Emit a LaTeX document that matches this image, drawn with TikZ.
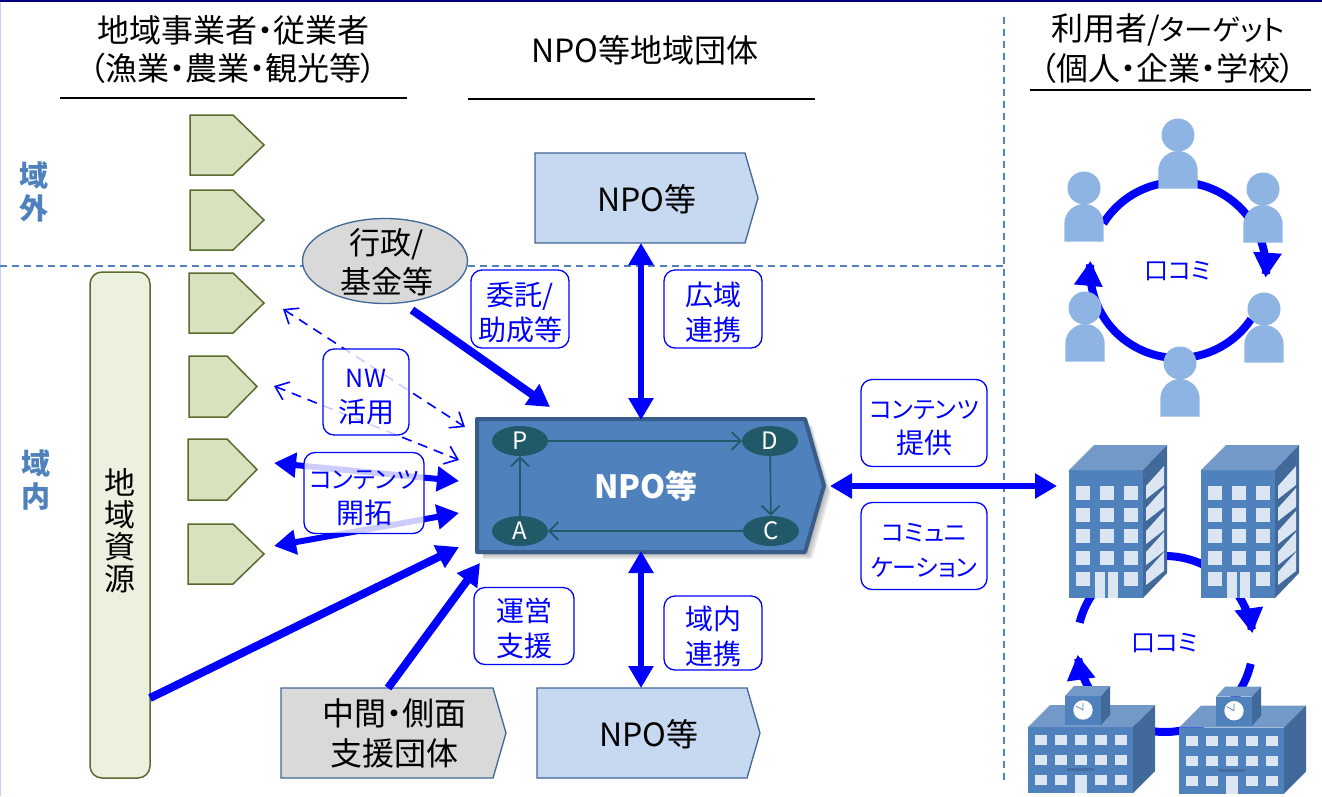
\documentclass[tikz,border=0pt]{standalone}
\usepackage{fontspec}
\setmainfont[RawFeature=+palt]{Noto Sans CJK JP}
\usetikzlibrary{arrows.meta,shadows,calc,shapes.geometric}
\definecolor{lblue}{HTML}{0000FF}
\definecolor{greenf}{HTML}{D8E2BF}
\definecolor{greenl}{HTML}{5A6B30}
\definecolor{resf}{HTML}{EBF1DE}
\definecolor{npof}{HTML}{C6D9F1}
\definecolor{npol}{HTML}{3F6797}
\definecolor{mainf}{HTML}{4F81BD}
\definecolor{mainl}{HTML}{385D8A}
\definecolor{teal}{HTML}{215968}
\definecolor{grayf}{HTML}{D9D9D9}
\definecolor{person}{HTML}{8EB4E3}
\definecolor{btop}{HTML}{7399C9}
\definecolor{bside}{HTML}{41699A}
\definecolor{bwin}{HTML}{DCE6F2}
\definecolor{regio}{HTML}{4F81BD}
\newcommand{\stk}[2]{\raisebox{\dimexpr#1-.25em\relax}[0pt][0pt]{\begin{tabular}{@{}c@{}}#2\end{tabular}}}
\newcommand{\kana}[1]{{\fontsize{24}{35}\selectfont #1}}
\tikzset{
 x=1pt,y=-1pt,
 txt/.style={inner sep=0pt,align=center,font=\fontsize{#1}{#1}\selectfont},
 lab/.style={rounded corners=11pt,draw=lblue,line width=1.3pt,fill=white,fill opacity=.8,text opacity=1,text=lblue,inner sep=0pt,font=\fontsize{28}{35}\selectfont},
 hline/.style={line width=1.6pt,black},
 dline/.style={dash pattern=on 7pt off 5pt,line width=1.2pt,draw=regio},
 fat/.style={lblue,line width=#1},
 fat/.default=6pt,
 both/.style={{Triangle[width=24pt,length=22pt]}-{Triangle[width=24pt,length=22pt]}},
 one/.style={-{Triangle[width=24pt,length=22pt]}},
 ringtip/.style={-{Triangle[width=27pt,length=25pt]}},
 dashopen/.style={lblue,line width=1.6pt,dash pattern=on 10pt off 7pt,{Straight Barb[length=12pt,width=19pt,line width=1.6pt]}-{Straight Barb[length=12pt,width=19pt,line width=1.6pt]}},
 pdca/.style={teal,line width=1.7pt,-{Straight Barb[length=9pt,width=18pt,line width=1.7pt]}},
 oval/.style={ellipse,fill=teal,text=white,minimum width=56pt,minimum height=30pt,inner sep=0pt,font=\fontsize{24}{24}\selectfont},
}
\newcommand{\pentagon}[9]{%
 \path[#7] (#2,#3) -- (#5,#3) -- (#6,{(#3+#4)/2}) -- (#5,#4) -- (#2,#4) -- cycle;
 \node[#8] (#1) at ({(#2+#5)/2},{(#3+#4)/2}) {#9};
}
\newcommand{\personfig}[3]{%
 \fill[person] (#2,#3) circle[radius=16.5];
 \fill[person] ({#2-19.7},{#3+53.5}) -- ({#2-19.7},{#3+36}) .. controls ({#2-19.7},{#3+24}) and ({#2-10},{#3+16}) .. (#2,{#3+16}) .. controls ({#2+10},{#3+16}) and ({#2+19.7},{#3+24}) .. ({#2+19.7},{#3+36}) -- ({#2+19.7},{#3+53.5}) -- cycle;
 \coordinate (#1) at (#2,#3);
}
\newcommand{\office}[2]{%
 \begin{scope}[shift={(#1,0)}]
  \fill[mainf] (1069,470) rectangle (1143,598);
  \fill[btop] (1069,470) -- (1094,445) -- (1167,445) -- (1143,470) -- cycle;
  \fill[bside] (1143,470) -- (1167,445) -- (1167,573) -- (1143,598) -- cycle;
  \foreach \yy in {486,508,529,551}{
   \foreach \xx in {1076,1100,1124}{\fill[bwin] (\xx,\yy) rectangle (\xx+14,\yy+14);}}
  \fill[bwin] (1076,572) rectangle (1090,586);
  \fill[bwin] (1124,572) rectangle (1138,586);
  \fill[bwin] (1095,572) rectangle (1105,598);
  \fill[bwin] (1108,572) rectangle (1118,598);
  \foreach \dd in {0,22,45,66,86}{
   \fill[bwin] (1146,486+\dd) -- (1164,466+\dd) -- (1164,485+\dd) -- (1146,499+\dd) -- cycle;}
  \coordinate (#2) at (1106,534);
 \end{scope}
}
\newcommand{\school}[3]{%
 \begin{scope}[shift={(#1,#2)}]
  \fill[mainf] (1028,727) rectangle (1133,793);
  \fill[btop] (1028,727) -- (1050,705) -- (1155,705) -- (1133,727) -- cycle;
  \fill[bside] (1133,727) -- (1155,705) -- (1155,771) -- (1133,793) -- cycle;
  \foreach \yy in {735,755,775}{
   \foreach \xx in {1035,1055,1095,1115}{\fill[bwin] (\xx,\yy) rectangle (\xx+12,\yy+10);}}
  \fill[bwin] (1075,735) rectangle (1087,745);
  \fill[bwin] (1075,755) rectangle (1087,765);
  \fill[bwin] (1075,775) rectangle (1087,793);
  \fill[bside!80!mainf] (1067,768) rectangle (1094,771);
  \fill[mainf] (1065,696) rectangle (1101,725);
  \fill[btop] (1065,696) -- (1074,686) -- (1110,686) -- (1101,696) -- cycle;
  \fill[bside] (1101,696) -- (1110,686) -- (1110,715) -- (1101,725) -- cycle;
  \fill[white] (1083,710) circle[radius=9.7];
  \draw[mainf,line width=.7pt] (1083,710) -- (1083,703) (1083,710) -- (1076,706);
  \coordinate (#3) at (1080,740);
 \end{scope}
}
\newcommand{\ringarc}[6]{%
 \draw[#6] plot[domain=#4:#5,samples=50,smooth] ({#1+#3*cos(\x)},{#2-#3*sin(\x)});
}
\begin{document}
\begin{tikzpicture}
\useasboundingbox (0,0) rectangle (1322,796);
\fill[white] (0,0) rectangle (1322,796);
\draw[line width=1.6pt,blue!50!black] (0,.8) -- (1322,.8);
\draw[line width=1.5pt,blue!20!white] (.7,2) -- (.7,796);
% dashed region lines
\draw[dline] (0,266) -- (1004,266);
\draw[dline] (1004,17) -- (1004,780);
% headers
\node[txt=32] (h1a) at (233,30) {地域事業者・従業者};
\node[txt=32] (h1b) at (233,68) {（漁業・農業・観光等）};
\draw[hline] (60,98) -- (407,98);
\node[txt=32] (h2) at (645,50) {NPO等地域団体};
\draw[hline] (468,99) -- (815,99);
\node[txt=32] (h3a) at (1168,30) {利用者/{\fontsize{28.5}{32}\selectfont ターゲット}};
\node[txt=32] (h3b) at (1168,68) {（個人・企業・学校）};
\draw[hline] (1030,90) -- (1311,90);
% region labels
\node[txt=29,text=regio,font=\fontsize{29}{33}\bfseries\selectfont] (out) at (34,192) {域\\外};
\node[txt=29,text=regio,font=\fontsize{29}{33}\bfseries\selectfont] (inn) at (36,480) {域\\内};
% local resources
\node[draw=greenl,line width=1.5pt,fill=resf,rounded corners=12pt,minimum width=60pt,minimum height=506pt,inner sep=0pt,font=\fontsize{31}{33.5}\selectfont] (res) at (120,525) {\stk{-8pt}{地\\[-4pt]域\\[-4pt]資\\[-4pt]源}\hspace{12pt}};
% green pentagons
\tikzset{gp/.style={draw=greenl,fill=greenf,line width=1.5pt}}
\pentagon{g1}{190}{115}{175}{233}{264}{gp}{}{}
\pentagon{g2}{190}{190}{250}{233}{264}{gp}{}{}
\pentagon{g3}{189}{273}{333}{233}{264}{gp}{}{}
\pentagon{g4}{189}{356}{417}{227}{257}{gp}{}{}
\pentagon{g5}{188}{439}{500}{227}{257}{gp}{}{}
\pentagon{g6}{188}{524}{584}{233}{264}{gp}{}{}
% NPO boxes
\tikzset{np/.style={draw=npol,fill=npof,line width=1.3pt},gy/.style={draw=npol,fill=grayf,line width=1.3pt}}
\pentagon{npotop}{535}{153}{243}{745}{758}{np}{txt=32,yshift=-1pt,xshift=7pt}{NPO等}
\pentagon{npobot}{537}{688}{778}{747}{760}{np}{txt=32,yshift=-1pt,xshift=7pt}{NPO等}
\pentagon{support}{281}{688}{778}{493}{506}{gy}{inner sep=0pt,xshift=7pt,font=\fontsize{32}{40}\selectfont}{\stk{-3pt}{中間・側面\\支援団体}}
% ellipse
\node[ellipse,draw=npol,fill=grayf,line width=1.3pt,minimum width=165pt,minimum height=85pt,inner sep=0pt,font=\fontsize{31}{39}\selectfont] (gov) at (385,261) {\hspace{4pt}\stk{-4pt}{行政/\\基金等}};
% coordinates
\coordinate (govS) at (412,310);
\coordinate (mainNW) at (550,407);
\coordinate (topS) at (641,243);
\coordinate (mainN) at (641,420);
\coordinate (mainS) at (641,551);
\coordinate (botN) at (641,688);
\coordinate (mainE) at (830,486);
\coordinate (office) at (1057,486);
\coordinate (resE) at (150,698);
\coordinate (mainW1) at (459,547);
\coordinate (supN) at (388,688);
\coordinate (mainSW) at (480,563);
\coordinate (d1a) at (283,309);
\coordinate (d1b) at (465,427);
\coordinate (d2a) at (274,386);
\coordinate (d2b) at (459,460);
\coordinate (c1a) at (274,463);
\coordinate (c1b) at (459,481);
\coordinate (c2a) at (274,546);
\coordinate (c2b) at (459,513);
% main NPO with soft shadow
\foreach \s in {7,5.5,4,2.5}{
 \fill[black,opacity=.08] (483,419+\s) -- (805+\s,419+\s) -- (824+\s,486+\s) -- (805+\s,552+\s) -- (483,552+\s) -- cycle;}
\pentagon{main}{477}{419}{552}{805}{824}{draw=mainl,fill=mainf,line width=4pt,line join=round}{text=white,inner sep=0pt,font=\fontsize{32}{32}\bfseries\selectfont,xshift=5pt,yshift=-.5pt}{NPO等}
\node[oval] (P) at (520,441) {P};
\node[oval] (D) at (770,441) {D};
\node[oval] (A) at (520,531) {A};
\node[oval] (C) at (771,531) {C};
\draw[pdca] (P) -- (D);
\draw[pdca] (D) -- (C);
\draw[pdca] (C) -- (A);
\draw[pdca] (A) -- (P);
% connectors
\draw[fat=8pt,one] (govS) -- (mainNW);
\draw[fat=6pt,both] (topS) -- (mainN);
\draw[fat=6pt,both] (mainS) -- (botN);
\draw[fat=6pt,both] (mainE) -- (office);
\draw[fat=8pt,one] (resE) -- (mainW1);
\draw[fat=8pt,one] (supN) -- (mainSW);
\draw[dashopen] (d1a) -- (d1b);
\draw[dashopen] (d2a) -- (d2b);
\draw[fat=6pt,both] (c1a) -- (c1b);
\draw[fat=6pt,both] (c2a) -- (c2b);
% labels
\node[lab,minimum width=98pt,minimum height=78pt] (l1) at (520,309) {\stk{-6pt}{委託/\\助成等}};
\node[lab,minimum width=98pt,minimum height=78pt] (l2) at (713,309) {\stk{-6pt}{広域\\連携}};
\node[lab,minimum width=86pt,minimum height=86pt] (l3) at (366,392) {\stk{-5pt}{{\fontsize{25}{35}\selectfont NW}\\活用}};
\node[lab,minimum width=120pt,minimum height=81pt] (l4) at (364,493) {\stk{-5pt}{\kana{コンテンツ}\\開拓}};
\node[lab,minimum width=126pt,minimum height=87pt] (l5) at (924,423) {\stk{-5pt}{\kana{コンテンツ}\\提供}};
\node[lab,minimum width=126pt,minimum height=87pt] (l6) at (924,546) {\stk{-5pt}{\kana{コミュニ}\\\kana{ケーション}}};
\node[lab,minimum width=100pt,minimum height=77pt] (l7) at (524,626) {\stk{-5pt}{運営\\支援}};
\node[lab,minimum width=98pt,minimum height=74pt] (l8) at (713,633) {\stk{-6pt}{域内\\連携}};
% people ring
\ringarc{1178}{270}{88}{148}{-5}{fat=8pt,ringtip}
\ringarc{1178}{270}{88}{-34}{-186}{fat=8pt,ringtip}
\personfig{p1}{1178}{135}
\personfig{p2}{1084}{188}
\personfig{p3}{1263}{189}
\personfig{p4}{1264}{309}
\personfig{p5}{1180}{363}
\personfig{p6}{1085}{308}
\node[txt=24,text=lblue] (wom1) at (1178,271) {口コミ};
% buildings ring
\ringarc{1165}{644}{88}{166}{7}{fat=8pt,ringtip}
\ringarc{1165}{644}{88}{-13}{-173}{fat=8pt,ringtip}
\office{0}{b1}
\office{132}{b2}
\school{0}{0}{s1}
\school{151}{0.7}{s2}
\node[txt=24,text=lblue] (wom2) at (1165,643) {口コミ};
\end{tikzpicture}
\end{document}
